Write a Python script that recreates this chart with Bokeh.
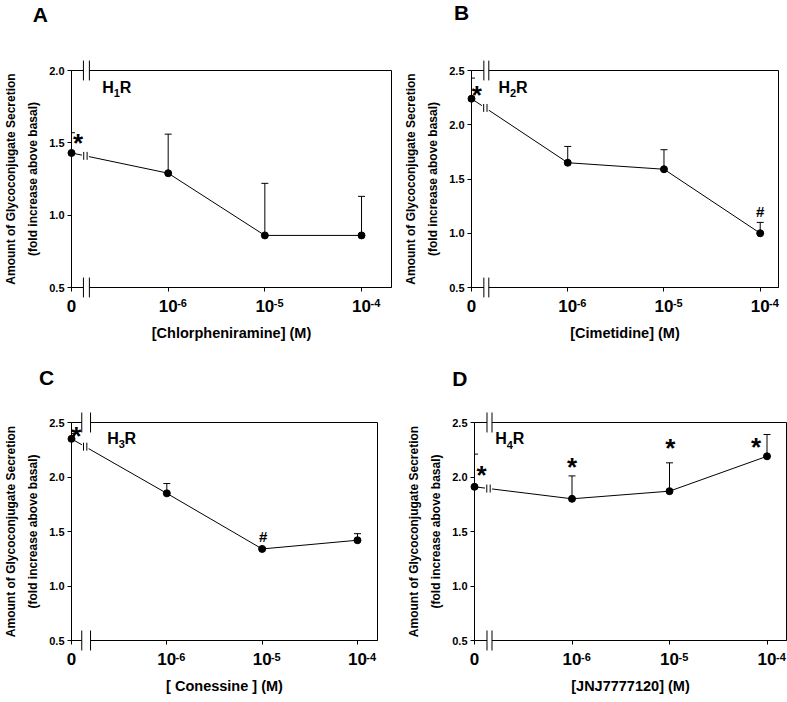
from bokeh.plotting import figure
from bokeh.models import FixedTicker, ColumnDataSource, Whisker, TeeHead
from bokeh.layouts import column, row
from bokeh.embed import file_html
from bokeh.resources import INLINE
from bokeh.core.properties import value

# ---------------- data ----------------
x_pos = [0, 1, 2, 3]
conc_base = ["0", "10", "10", "10"]
conc_exp = ["", "-6", "-5", "-4"]

A_mean = [1.43, 1.29, 0.86, 0.86]
A_upper = [1.57, 1.56, 1.22, 1.13]
A_marks = ["*", "", "", ""]

B_mean = [2.24, 1.65, 1.59, 1.00]
B_upper = [2.43, 1.80, 1.77, 1.10]
B_marks = ["*", "", "", "#"]

C_mean = [2.35, 1.85, 1.34, 1.42]
C_upper = [2.40, 1.94, 1.35, 1.48]
C_marks = ["*", "", "#", ""]

D_mean = [1.91, 1.80, 1.87, 2.19]
D_upper = [2.21, 2.01, 2.13, 2.39]
D_marks = ["*", "*", "*", "*"]

A_yticks = [0.5, 1.0, 1.5, 2.0]
BCD_yticks = [0.5, 1.0, 1.5, 2.0, 2.5]

panel_letters = ["A", "B", "C", "D"]
receptor_sub = ["1", "2", "3", "4"]
drug_labels = ["[Chlorpheniramine] (M)", "[Cimetidine] (M)",
               "[ Conessine ] (M)", "[JNJ7777120] (M)"]
y_title = "Amount of Glycoconjugate Secretion\n(fold increase above basal)"

# ---------------- layout (reference pixels) ----------------
FONT = "Liberation Sans"
KB = 0.4  # baseline correction of text glyphs (em)
XT = 17   # x tick label font size

GEOM = {
    "A": dict(w=400, h=345, fl=69.0, fr=391.0, ft=68.3, fb=286.7, xend=3.31,
              letter=(30, 5), rec=(100, 80), gap=6,
              off=[(6.5, -14), None, None, None]),
    "B": dict(w=387, h=345, fl=67.7, fr=378.3, ft=70.0, fb=289.3, xend=3.19,
              letter=(50, 5), rec=(95, 82), gap=5,
              off=[(5.3, -7.3), None, None, (0, -21.5)]),
    "C": dict(w=400, h=357, fl=63.3, fr=376.7, ft=77.3, fb=296.0, xend=3.21,
              letter=(30, 26), rec=(100, 88), gap=9,
              off=[(5, -6.7), None, (1, -12), None]),
    "D": dict(w=387, h=357, fl=74.3, fr=386.5, ft=76.7, fb=295.0, xend=3.20,
              letter=(52, 26), rec=(95, 88), gap=5,
              off=[(7, -16), (0, -36), (0.7, -46.7), (-11, -13)]),
}


def make_panel(key, mean, upper, marks, ylo, yhi, yticks, letter, sub, xlab):
    g = GEOM[key]
    W, H = g["w"], g["h"]
    L = round(g["fl"])
    R = max(1, W - round(g["fr"]))
    T = round(g["ft"])
    B = H - round(g["fb"])
    p = figure(width=W, height=H, x_range=(0, g["xend"]), y_range=(ylo, yhi),
               output_backend="svg", toolbar_location=None,
               min_border_left=L, min_border_right=R,
               min_border_top=T, min_border_bottom=B)
    p.background_fill_color = "white"
    p.border_fill_color = "white"
    p.outline_line_color = "black"
    p.outline_line_width = 1
    p.xgrid.visible = False
    p.ygrid.visible = False

    ppx = (g["fr"] - g["fl"]) / g["xend"]
    ppy = (g["fb"] - g["ft"]) / (yhi - ylo)

    def dx_(px):
        return px / ppx

    def ybase(screen_y, fs):
        return yhi - (screen_y - KB * fs - g["ft"]) / ppy

    def txt(xs, ys, texts, fs, align="left"):
        r = p.text(x=xs, y=ys, text=texts, text_font=value(FONT), text_font_style="bold",
                   text_font_size=value(f"{fs}px"), text_align=align,
                   text_baseline="alphabetic", text_color="black")
        r.level = "overlay"
        return r

    # axes
    for ax in (p.xaxis[0], p.yaxis[0]):
        ax.axis_line_color = "black"
        ax.major_tick_line_color = "black"
        ax.minor_tick_line_color = None
        ax.major_tick_in = 0
        ax.major_tick_out = 4
        ax.major_label_text_font = FONT
        ax.major_label_text_font_style = "bold"
        ax.major_label_text_color = "black"
        ax.axis_label_text_font = FONT
        ax.axis_label_text_font_style = "bold"
        ax.axis_label_text_color = "black"
    yax = p.yaxis[0]
    yax.ticker = FixedTicker(ticks=yticks)
    yax.major_label_overrides = {t: f"{t:.1f}" for t in yticks}
    yax.major_label_text_font_size = "11px"
    yax.major_label_standoff = 3
    yax.axis_label = y_title
    yax.axis_label_text_font_size = "12px"
    yax.axis_label_text_line_height = 1.6
    yax.axis_label_standoff = 6

    xax = p.xaxis[0]
    xax.ticker = FixedTicker(ticks=x_pos)
    xax.major_label_overrides = {x: lab for x, lab in zip(x_pos, conc_base)}
    xax.major_label_text_font_size = f"{XT}px"
    xax.major_label_standoff = 8
    xax.axis_label = xlab
    xax.axis_label_text_font_size = "14.5px"
    xax.axis_label_standoff = 10

    # exponents of the x tick labels
    ex = [x + dx_(0.53 * XT) for x, e in zip(x_pos, conc_exp) if e]
    ey = [ybase(g["fb"] + 20.5, 11)] * len(ex)
    txt(ex, ey, [e for e in conc_exp if e], 11)

    # axis breaks on top and bottom edges
    xb = dx_(15)
    half = dx_(g["gap"] / 2)
    bh = 10 / ppy
    for yy in (ylo, yhi):
        r = p.segment(x0=[xb - half], y0=[yy], x1=[xb + half], y1=[yy],
                      line_color="white", line_width=3)
        r.level = "overlay"
        r = p.segment(x0=[xb - half, xb + half], y0=[yy - bh, yy - bh],
                      x1=[xb - half, xb + half], y1=[yy + bh, yy + bh],
                      line_color="black", line_width=1)
        r.level = "overlay"

    # data line
    p.line(x_pos, mean, line_color="black", line_width=1)

    # break mark on the data line
    xl = dx_(14)
    slope = (mean[1] - mean[0]) / (x_pos[1] - x_pos[0])
    yl = mean[0] + slope * (xl - x_pos[0])
    w = dx_(3.5)
    p.segment(x0=[xl - w], y0=[yl - slope * w], x1=[xl + w], y1=[yl + slope * w],
              line_color="white", line_width=4)
    bw = dx_(1.7)
    bhh = 4 / ppy
    p.segment(x0=[xl - bw, xl + bw], y0=[yl - bhh, yl - bhh],
              x1=[xl - bw, xl + bw], y1=[yl + bhh, yl + bhh],
              line_color="black", line_width=1)

    # error bars (upper only)
    src = ColumnDataSource(dict(x=x_pos, y=mean, up=upper))
    wh = Whisker(source=src, base="x", upper="up", lower="y", dimension="height",
                 line_color="black", line_width=1,
                 upper_head=TeeHead(size=7, line_color="black", line_width=1),
                 lower_head=None)
    p.add_layout(wh)

    # points
    r = p.scatter(x_pos, mean, size=7, fill_color="black", line_color="black")
    r.level = "overlay"

    # significance marks
    for sym, fs, c in (("*", 26, 0.55), ("#", 15, 0.36)):
        xs, ys, ts = [], [], []
        for i, m in enumerate(marks):
            if m != sym:
                continue
            ox, oy = g["off"][i]
            py = g["ft"] + (yhi - mean[i]) * ppy
            xs.append(x_pos[i] + dx_(ox))
            ys.append(ybase(py + oy + c * fs, fs))
            ts.append(m)
        if ts:
            txt(xs, ys, ts, fs, align="center")

    # receptor label H_nR
    rx, ry = g["rec"]
    x0 = dx_(rx - g["fl"])
    base = ry + 0.716 * 16
    txt([x0], [ybase(base, 16)], ["H"], 16)
    txt([x0 + dx_(11.6)], [ybase(base + 4, 11)], [sub], 11)
    txt([x0 + dx_(17.6)], [ybase(base, 16)], ["R"], 16)

    # panel letter
    lx, ly = g["letter"]
    txt([dx_(lx - g["fl"])], [ybase(ly + 0.716 * 21, 21)], [letter], 21)
    return p


pA = make_panel("A", A_mean, A_upper, A_marks, 0.5, 2.0, A_yticks,
                panel_letters[0], receptor_sub[0], drug_labels[0])
pB = make_panel("B", B_mean, B_upper, B_marks, 0.5, 2.5, BCD_yticks,
                panel_letters[1], receptor_sub[1], drug_labels[1])
pC = make_panel("C", C_mean, C_upper, C_marks, 0.5, 2.5, BCD_yticks,
                panel_letters[2], receptor_sub[2], drug_labels[2])
pD = make_panel("D", D_mean, D_upper, D_marks, 0.5, 2.5, BCD_yticks,
                panel_letters[3], receptor_sub[3], drug_labels[3])

layout = column(row(pA, pB), row(pC, pD))
open("out.html", "w").write(file_html(layout, INLINE))
